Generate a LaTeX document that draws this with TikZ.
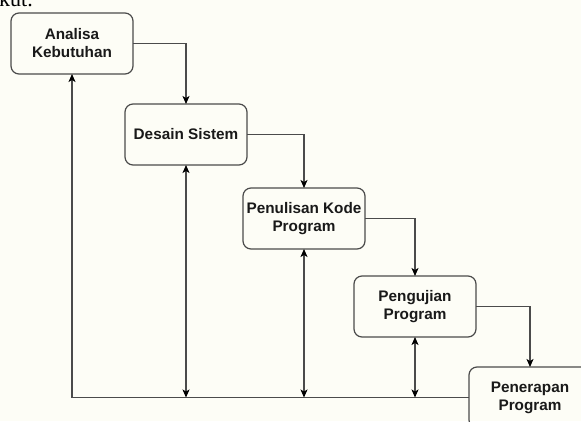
\documentclass[tikz,border=0pt]{standalone}
\usepackage{fontspec}
\setmainfont{Liberation Serif}
\setsansfont{Liberation Sans}
\usepackage{xcolor}
\usepackage{tikz}
\usetikzlibrary{arrows.meta, positioning, calc}
\definecolor{paper}{RGB}{253,253,246}
\definecolor{wire}{RGB}{75,75,75}

\begin{document}
\begin{tikzpicture}[
    x=1pt, y=-1pt,
    stage/.style={rectangle, rounded corners=8pt, draw=wire, line width=1.2pt,
      minimum width=122pt, minimum height=61pt, inner sep=0pt, outer sep=0pt, align=center,
      text=black!90, font=\sffamily\bfseries\fontsize{15.3}{18}\selectfont},
    flow/.style={draw=wire, line width=1.2pt, -{Stealth[length=8pt, width=7pt, inset=2pt, black]}},
    both/.style={draw=wire, line width=1.2pt,
      {Stealth[length=8pt, width=7pt, inset=2pt, black]}-{Stealth[length=8pt, width=7pt, inset=2pt, black]}}
  ]
  \useasboundingbox (0,0) rectangle (581,421);
  \clip (0,0) rectangle (581,421);
  \fill[paper] (0,0) rectangle (581,421);
  \node[anchor=base east, inner sep=0pt, font=\rmfamily\fontsize{22}{26}\selectfont] (prev) at (33,6) {berikut.};

  \node[stage, anchor=north west] (s1) at (11,13) {Analisa\\Kebutuhan};
  \node[stage, below right=30pt and -8pt of s1] (s2) {Desain Sistem};
  \node[stage, below right=23pt and -4pt of s2] (s3) {Penulisan Kode\\Program};
  \node[stage, below right=27pt and -11pt of s3] (s4) {Pengujian\\Program};
  \node[stage, below right=30pt and -7pt of s4] (s5) {Penerapan\\Program};

  \draw[flow] (s1.east) -| (s2.north);
  \draw[flow] (s2.east) -| (s3.north);
  \draw[flow] (s3.east) -| (s4.north);
  \draw[flow] (s4.east) -| (s5.north);

  \coordinate (base) at (s1.south |- s5.west);
  \coordinate (j2) at (s2.south |- base);
  \coordinate (j3) at (s3.south |- base);
  \coordinate (j4) at (s4.south |- base);
  \draw[flow] (s5.west) -- (base) -- (s1.south);
  \draw[both] (s2.south) -- (j2);
  \draw[both] (s3.south) -- (j3);
  \draw[both] (s4.south) -- (j4);
\end{tikzpicture}
\end{document}
